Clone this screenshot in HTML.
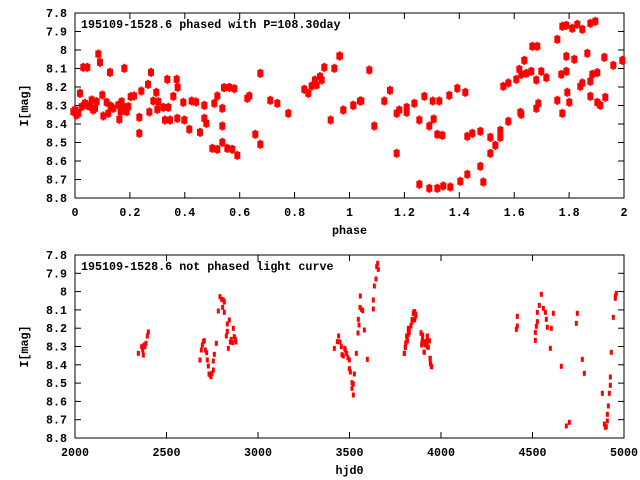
<!DOCTYPE html>
<html><head><meta charset="utf-8"><style>
html,body{margin:0;padding:0;background:#fff;}
svg{display:block;font-family:"Liberation Mono",monospace;font-size:11.7px;font-weight:bold;}
</style></head><body>
<svg id="s" width="640" height="480" xmlns="http://www.w3.org/2000/svg">
<rect width="640" height="480" fill="#fff"/>
<g id="g"></g>
</svg>
<script>
var NS="http://www.w3.org/2000/svg",g=document.getElementById("g");
function el(t,a,txt){var e=document.createElementNS(NS,t);for(var k in a)e.setAttribute(k,a[k]);if(txt!=null)e.textContent=txt;g.appendChild(e);return e;}
function axes(x0,x1,y0,y1,xt,xl,yl,xlab,title){
 el("rect",{x:x0,y:y0,width:x1-x0,height:y1-y0,fill:"none",stroke:"#000","stroke-width":1});
 for(var i=0;i<xt.length;i++){var x=x0+(x1-x0)*i/(xt.length-1);
  el("line",{x1:x,y1:y1,x2:x,y2:y1-6,stroke:"#000"});el("line",{x1:x,y1:y0,x2:x,y2:y0+6,stroke:"#000"});
  el("text",{x:x,y:y1+18,"text-anchor":"middle"},xt[i]);}
 var ys=["7.8","7.9","8","8.1","8.2","8.3","8.4","8.5","8.6","8.7","8.8"];
 for(var j=0;j<ys.length;j++){var y=y0+(y1-y0)*j/10;
  el("line",{x1:x0,y1:y,x2:x0+6,y2:y,stroke:"#000"});el("line",{x1:x1,y1:y,x2:x1-6,y2:y,stroke:"#000"});
  el("text",{x:x0-8,y:y+4,"text-anchor":"end"},ys[j]);}
 el("text",{x:(x0+x1)/2,y:y1+36,"text-anchor":"middle"},xlab);
 el("text",{x:0,y:0,"text-anchor":"middle",transform:"translate(28,"+((y0+y1)/2)+") rotate(-90)"},"I[mag]");
 el("text",{x:x0+6,y:y0+15},title);
}
axes(75,624,13,198,["0","0.2","0.4","0.6","0.8","1","1.2","1.4","1.6","1.8","2"],0,0,"phase","195109-1528.6 phased with P=108.30day");
axes(75,624,255,438,["2000","2500","3000","3500","4000","4500","5000"],0,0,"hjd0","195109-1528.6 not phased light curve");
var z1=[[10,305],[25,310],[30,250],[40,172],[52,172],[35,290],[50,285],[60,290],[70,300],[80,275],[85,132],[90,157],[97,255],[100,318],[110,277],[115,310],[120,187],[122,288],[130,295],[145,285],[148,328],[152,305],[155,275],[160,290],[163,175],[170,305],[175,290],[182,260],[192,258],[208,322],[208,370],[214,243],[234,223],[238,306],[243,187],[250,273],[259,247],[262,298],[265,275],[280,292],[285,330],[292,208],[295,292],[300,330],[310,259],[320,208],[322,325],[323,232],[340,277],[343,330],[358,358],[365,273],[378,276],[390,367],[403,286],[403,325],[409,340],[427,415],[433,280],[442,258],[442,418],[457,295],[457,348],[457,397],[462,233],[472,415],[478,232],[487,418],[493,236],[502,436],[532,265],[538,258],[556,373],[571,190],[571,403],[601,271],[622,280],[655,310],[703,238],[715,250],[725,228],[735,210],[740,225],[750,200],[755,210],[763,172],[782,330],[793,175],[808,138],[820,300],[850,286],[870,273],[15,300],[20,315],[45,280],[65,270],[75,295]];
var z2=[[0,138],[10,300],[40,286],[64,273],[88,180],[103,348],[133,273],[150,241],[170,310],[170,430],[178,300],[200,292],[200,307],[223,280],[238,330],[238,523],[253,259],[268,348],[268,535],[278,273],[281,327],[292,373],[292,535],[298,273],[307,376],[310,528],[328,256],[331,531],[352,235],[361,514],[376,247],[382,379],[382,493],[397,370],[421,364],[421,469],[430,516],[451,382],[451,430],[466,406],[481,382],[481,361],[490,229],[505,219],[505,334],[529,208],[538,178],[541,307],[544,193],[544,313],[553,151],[559,190],[574,184],[577,109],[592,109],[589,295],[589,210],[595,280],[604,184],[619,203],[652,88],[652,271],[664,193],[667,310],[667,49],[679,46],[679,184],[679,139],[682,247],[688,277],[697,55],[703,148],[712,43],[721,229],[727,58],[727,219],[742,130],[751,40],[751,214],[751,259],[757,193],[766,34],[772,188],[772,277],[781,286],[793,142],[796,262],[820,166],[847,151]];
function big(x,y){el("rect",{x:x-3,y:y-3.5,width:6,height:7,fill:"#f00"});el("rect",{x:x-1,y:y-4.5,width:2,height:9,fill:"#f00"});}
z1.forEach(function(p){big(70+p[0]/3,10+p[1]/3);});
z2.forEach(function(p){big(340+p[0]/3,10+p[1]/3);});
var z3=[[55,310],[65,290],[68,300],[70,315],[72,285],[75,290],[78,280],[82,258],[85,246],[240,330],[244,300],[247,285],[250,275],[253,272],[256,300],[260,308],[262,330],[265,348],[267,372],[270,375],[273,380],[276,370],[280,360],[280,333],[283,313],[289,280],[295,183],[300,140],[305,148],[308,172],[310,150],[313,156],[313,187],[319,258],[322,222],[322,244],[325,295],[328,210],[331,276],[334,268],[338,278],[340,235],[343,260],[346,268],[348,276],[643,295],[652,275],[656,258],[660,276],[664,290],[666,314],[670,318],[674,295],[676,300],[680,310],[684,323],[688,330],[688,356],[691,366],[696,398],[696,415],[700,402],[700,435],[703,372],[709,310],[714,249],[715,208],[717,225],[720,172],[721,138],[724,178],[728,182],[733,240],[742,328],[760,150],[760,177],[763,108],[768,87],[770,50],[773,40],[775,58],[853,310],[856,292],[857,280],[860,258],[862,272],[865,245],[868,235],[873,227],[876,210],[880,190],[884,185],[888,195],[903,250],[906,278],[908,265],[912,306],[916,285],[920,275],[922,258],[925,292],[928,272],[930,325],[932,342],[935,350]];
var z4=[[13,250],[16,232],[18,218],[20,200],[22,213],[25,195],[25,175],[28,187],[33,168],[36,155],[38,148],[40,130],[42,125],[44,150],[46,140],[48,132],[63,188],[65,225],[67,210],[68,195],[70,220],[73,247],[76,215],[80,215],[82,200],[82,230],[88,213],[91,265],[91,280],[94,290],[349,178],[352,168],[352,139],[406,211],[406,187],[409,169],[412,155],[412,127],[418,106],[424,73],[430,115],[436,127],[439,148],[442,172],[451,235],[454,175],[460,130],[484,289],[499,468],[508,457],[529,160],[532,130],[547,268],[553,310],[607,370],[613,462],[616,472],[619,470],[622,453],[622,433],[625,408],[628,370],[631,346],[631,321],[634,247],[640,142],[646,85],[646,78],[649,70]];
z3.forEach(function(p){el("rect",{x:120+p[0]/3-1.5,y:250+p[1]/3-2.5,width:3,height:5,fill:"#f00"});});
z4.forEach(function(p){el("rect",{x:400+p[0]/3-1.5,y:270+p[1]/3-2.5,width:3,height:5,fill:"#f00"});});
</script>
</body></html>
